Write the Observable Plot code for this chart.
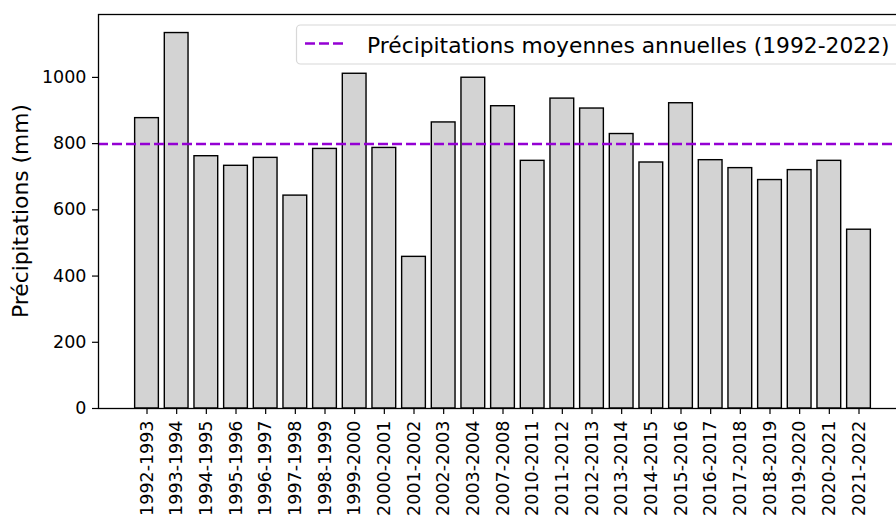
<!DOCTYPE html>
<html>
<head>
<meta charset="utf-8">
<script src="https://cdn.jsdelivr.net/npm/d3@7"></script>
<script src="https://cdn.jsdelivr.net/npm/@observablehq/plot@0.6"></script>
<style>
  html, body { margin: 0; padding: 0; background: white; overflow: hidden; }
  #chart { position: relative; width: 896px; height: 517px; }
</style>
</head>
<body>
<div id="chart"></div>
<script>
const categories = [
  "1992-1993","1993-1994","1994-1995","1995-1996","1996-1997","1997-1998",
  "1998-1999","1999-2000","2000-2001","2001-2002","2002-2003","2003-2004",
  "2007-2008","2010-2011","2011-2012","2012-2013","2013-2014","2014-2015",
  "2015-2016","2016-2017","2017-2018","2018-2019","2019-2020","2020-2021","2021-2022"
];
const precipitations = [
  877, 1134, 762, 733, 757, 643, 784, 1011, 787, 458, 864, 999,
  913, 748, 936, 906, 829, 743, 922, 750, 726, 690, 720, 748, 540
];
const averagePrecip = 799;
const yTicks = [0, 200, 400, 600, 800, 1000];
const legendLabel = "Précipitations moyennes annuelles (1992-2022)";
const yLabel = "Précipitations (mm)";

const data = categories.map((c, i) => ({ saison: c, mm: precipitations[i] }));
const FONT = "'DejaVu Sans', sans-serif";
const FS = 17.5;
const FS_BIG = 21.8;

const chart = Plot.plot({
  width: 896,
  height: 517,
  marginLeft: 98,
  marginTop: 14,
  marginBottom: 109,
  marginRight: -11,
  style: { fontFamily: FONT, fontSize: FS + "px", color: "#000", background: "white" },
  x: { type: "band", domain: categories, paddingInner: 0.2, paddingOuter: 1.235, round: false },
  y: { domain: [0, 1190] },
  marks: [
    Plot.barY(data, { x: "saison", y: "mm", fill: "#d3d3d3", stroke: "#000", strokeWidth: 1.4 }),
    Plot.ruleY([averagePrecip], { stroke: "#9400d3", strokeWidth: 2.6, strokeDasharray: "10,4" }),
    Plot.frame({ stroke: "#000", strokeWidth: 1.3 }),
    Plot.axisX({ tickRotate: -90, tickSize: 6, tickPadding: 6, label: null, fontSize: FS, stroke: "#000", strokeWidth: 1.2 }),
    Plot.axisY({ ticks: yTicks, tickFormat: d3.format("d"), tickSize: 6, tickPadding: 6, label: null, fontSize: FS, stroke: "#000", strokeWidth: 1.2 })
  ]
});
document.getElementById("chart").appendChild(chart);

const svg = d3.select(chart);
// y-axis title
svg.append("text")
  .attr("transform", "translate(27.5,211) rotate(-90)")
  .attr("text-anchor", "middle")
  .attr("font-family", FONT)
  .attr("font-size", FS_BIG)
  .attr("fill", "#000")
  .text(yLabel);

// legend
const lg = svg.append("g");
lg.append("rect")
  .attr("x", 296.5).attr("y", 25).attr("width", 700).attr("height", 39).attr("rx", 4)
  .attr("fill", "white").attr("fill-opacity", 0.8).attr("stroke", "#d8d8d8").attr("stroke-width", 1.2);
lg.append("line")
  .attr("x1", 305).attr("x2", 345).attr("y1", 43.5).attr("y2", 43.5)
  .attr("stroke", "#9400d3").attr("stroke-width", 2.6).attr("stroke-dasharray", "10,4");
lg.append("text")
  .attr("x", 367).attr("y", 52.5)
  .attr("text-anchor", "start")
  .attr("font-family", FONT).attr("font-size", FS_BIG).attr("fill", "#000")
  .text(legendLabel);
</script>
</body>
</html>
